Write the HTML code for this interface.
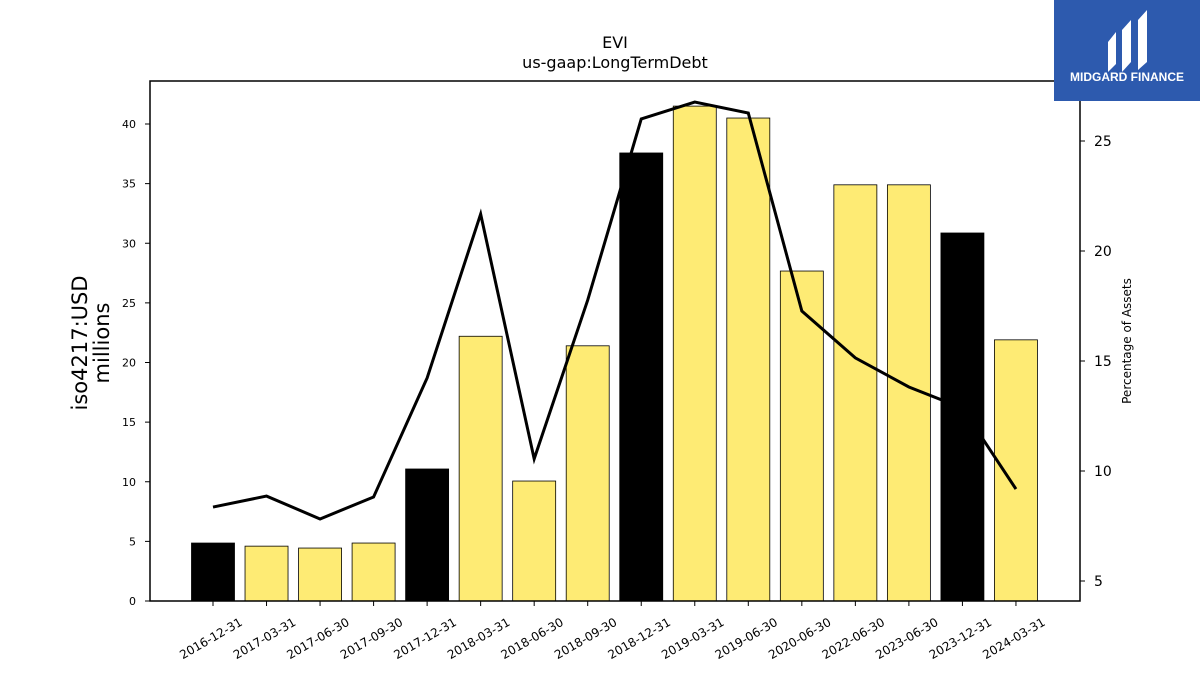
<!DOCTYPE html>
<html><head><meta charset="utf-8"><style>
body{margin:0;background:#fff;font-family:"Liberation Sans","DejaVu Sans",sans-serif}
svg text{font-family:"DejaVu Sans","Liberation Sans",sans-serif}
</style></head><body>
<svg id="c" width="1200" height="675" viewBox="0 0 1200 675" xmlns="http://www.w3.org/2000/svg">
<rect width="1200" height="675" fill="#fff"/>
<text x="615" y="48" font-size="16" text-anchor="middle">EVI</text>
<text x="615" y="68" font-size="16" text-anchor="middle">us-gaap:LongTermDebt</text>
<g id="bars"></g>
<g id="line"></g>
<rect x="150" y="81" width="930" height="520" fill="none" stroke="#000" stroke-width="1.5"/>
<g id="yl"></g>
<g id="yr"></g>
<g id="xa"></g>
<text transform="translate(87,343) rotate(-90)" font-size="21" text-anchor="middle"><tspan x="0" dy="0">iso4217:USD</tspan><tspan x="0" dy="22">millions</tspan></text>
<text transform="translate(1131,341) rotate(-90)" font-size="12" text-anchor="middle">Percentage of Assets</text>
<g>
<rect x="1054" y="0" width="146" height="101" fill="#2d5aae"/>
<path d="M1108 42 L1116 32 L1116 64 L1108 72 Z M1122 30 L1131 20 L1131 62 L1122 72 Z M1138 20 L1147 10 L1147 62 L1138 70 Z" fill="#fff"/>
<text x="1127" y="81" font-size="12" font-weight="bold" fill="#fff" text-anchor="middle" style="font-family:'Liberation Sans',sans-serif">MIDGARD FINANCE</text>
</g>
</svg>
<script>
const categories=["2016-12-31","2017-03-31","2017-06-30","2017-09-30","2017-12-31","2018-03-31","2018-06-30","2018-09-30","2018-12-31","2019-03-31","2019-06-30","2020-06-30","2022-06-30","2023-06-30","2023-12-31","2024-03-31"];
const debtValues=[4.86,4.6,4.44,4.86,11.07,22.2,10.06,21.4,37.57,41.5,40.5,27.67,34.9,34.9,30.86,21.9];
const pctAssets=[8.36,8.86,7.82,8.82,14.23,21.68,10.55,17.77,26.0,26.77,26.27,17.27,15.14,13.82,12.86,9.18];
const annual=[true,false,false,false,true,false,false,false,true,false,false,false,false,false,true,false];
const leftTicks=[0,5,10,15,20,25,30,35,40];
const rightTicks=[5,10,15,20,25];
const NS="http://www.w3.org/2000/svg";
const yL=v=>601-v*11.925;
const yR=v=>581-(v-5)*22;
const xC=i=>213+i*53.53;
function mk(t,a,p){const e=document.createElementNS(NS,t);for(const k in a)e.setAttribute(k,a[k]);p.appendChild(e);return e;}
const bars=document.getElementById('bars');
debtValues.forEach((v,i)=>{
 const r=mk('rect',{x:xC(i)-21.5,y:yL(v),width:43,height:601-yL(v),fill:annual[i]?'#000':'#feeb74',stroke:'#000','stroke-width':0.8},bars);
 
 
});
const ln=document.getElementById('line');
const pl=mk('polyline',{points:pctAssets.map((v,i)=>xC(i)+','+yR(v)).join(' '),fill:'none',stroke:'#000','stroke-width':3},ln);


const yl=document.getElementById('yl');
leftTicks.forEach(v=>{
 mk('line',{x1:145,x2:150,y1:yL(v),y2:yL(v),stroke:'#000'},yl);
 const t=mk('text',{x:136,y:yL(v)+4,'font-size':11,'text-anchor':'end'},yl);t.textContent=v;
 
 
});
const yr=document.getElementById('yr');
rightTicks.forEach(v=>{
 mk('line',{x1:1080,x2:1085,y1:yR(v),y2:yR(v),stroke:'#000'},yr);
 const t=mk('text',{x:1094,y:yR(v)+5,'font-size':14},yr);t.textContent=v;
 
 
});
const xa=document.getElementById('xa');
categories.forEach((c,i)=>{
 mk('line',{x1:xC(i),x2:xC(i),y1:601,y2:606,stroke:'#000'},xa);
 const t=mk('text',{transform:`translate(${xC(i)},642) rotate(-30)`,'font-size':12,'text-anchor':'middle'},xa);t.textContent=c;
 
 
});
</script>
</body></html>
